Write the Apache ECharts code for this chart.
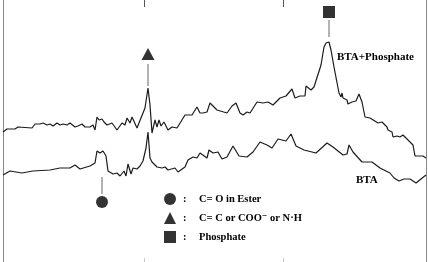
<!DOCTYPE html>
<html>
<head>
<meta charset="utf-8">
<script src="https://cdn.jsdelivr.net/npm/echarts@6/dist/echarts.min.js"></script>
<style>
  html, body { margin: 0; padding: 0; background: #fff; }
  #chart { width: 428px; height: 262px; }
</style>
</head>
<body>
<div id="chart"></div>
<script>
// spectrum traces (arbitrary position / intensity units)
const phosX = [0, 4, 12, 15, 29, 32, 37, 40, 44, 45, 47, 50, 54, 57, 60, 64, 67, 72, 75, 79, 82, 84, 87, 90, 92, 94, 96, 99, 101, 104, 109, 114, 119, 122, 124, 127, 129, 134, 142, 145, 147, 149, 152, 154, 156, 158, 161, 165, 169, 174, 182, 189, 194, 197, 200, 204, 207, 214, 224, 229, 233, 237, 240, 244, 247, 254, 260, 265, 270, 277, 283, 289, 292, 297, 302, 303, 305, 308, 311, 318, 321, 323, 326, 328, 331, 336, 338, 339, 340, 344, 345, 349, 353, 356, 359, 362, 367, 375, 379, 384, 385, 389, 390, 394, 397, 400, 410, 412, 420, 423];
const phosY = [130, 133, 133, 135, 134, 138, 138, 139, 137, 135, 138, 136, 139, 137, 138, 137, 139, 135, 136, 138, 135, 137, 135, 137, 132, 145, 142, 143, 140, 137, 139, 132, 139, 137, 144, 139, 145, 134, 154, 174, 157, 129, 142, 135, 142, 136, 140, 132, 135, 134, 147, 147, 155, 149, 149, 150, 159, 152, 149, 156, 159, 149, 147, 150, 149, 160, 159, 160, 157, 164, 166, 173, 164, 166, 166, 176, 174, 172, 175, 197, 215, 219, 220, 212, 195, 169, 165, 169, 164, 162, 158, 160, 161, 168, 160, 145, 144, 139, 140, 135, 132, 130, 125, 126, 125, 127, 117, 106, 106, 104];

const btaX = [0, 7, 19, 30, 47, 57, 67, 72, 77, 87, 92, 94, 97, 100, 103, 105, 110, 114, 117, 121, 123, 125, 128, 130, 134, 137, 140, 143, 145, 147, 149, 154, 159, 162, 165, 172, 175, 182, 185, 190, 194, 197, 204, 206, 210, 215, 219, 224, 230, 236, 244, 250, 257, 264, 269, 275, 283, 288, 293, 301, 313, 324, 330, 340, 344, 346, 350, 359, 369, 377, 387, 391, 396, 401, 407, 413, 418, 423];
const btaY = [87, 91, 89, 91, 92, 94, 94, 97, 93, 96, 99, 111, 109, 111, 106, 91, 88, 89, 86, 91, 86, 98, 88, 94, 93, 96, 101, 114, 130, 104, 100, 95, 94, 95, 92, 94, 90, 95, 102, 105, 104, 109, 104, 112, 109, 110, 103, 105, 116, 106, 105, 110, 120, 117, 114, 123, 121, 128, 116, 112, 109, 119, 115, 107, 108, 117, 110, 100, 100, 94, 89, 84, 81, 83, 83, 79, 83, 87];

// peak assignments: [x, marker height, stick top, stick bottom]
const peakNames = ['C= O in Ester', 'C= C or COO\u207B or N\u00B7H', 'Phosphate'];
const peakSymbols = ['circle', 'triangle', 'rect'];
const peakX = [99, 145, 326];
const peakMarkY = [60, 208, 250];
const stickFrom = [85, 198, 242];
const stickTo = [68, 176, 225];

const tickMarks = [141, 280];

const zip = (xs, ys) => xs.map((x, i) => [x, ys[i]]);

const chart = echarts.init(document.getElementById('chart'));

const serif = '"Liberation Serif", "DejaVu Serif", serif';
const ink = '#1c1c1c';

const series = [
  {
    name: 'BTA+Phosphate', type: 'line', data: zip(phosX, phosY),
    showSymbol: false, silent: true,
    lineStyle: { color: ink, width: 1.2 }
  },
  {
    name: 'BTA', type: 'line', data: zip(btaX, btaY),
    showSymbol: false, silent: true,
    lineStyle: { color: ink, width: 1.2 }
  }
];

peakX.forEach(function (x, i) {
  series.push({
    type: 'line', silent: true, showSymbol: false,
    data: [[x, stickFrom[i]], [x, stickTo[i]]],
    lineStyle: { color: '#666', width: 1 }
  });
  series.push({
    name: peakNames[i], type: 'scatter', silent: true,
    symbol: peakSymbols[i], symbolSize: i === 1 ? [13, 12] : 12,
    data: [[x, peakMarkY[i]]],
    itemStyle: { color: '#000' }
  });
});

chart.setOption({
  animation: false,
  grid: { left: 3, right: 2, top: 0, bottom: 0 },
  xAxis: [
    {
      type: 'value', min: 0, max: 423, position: 'bottom',
      axisLine: { show: false, onZero: false },
      axisTick: { show: true, inside: true, length: 4, customValues: tickMarks,
        lineStyle: { color: '#c8c8c8', width: 1 } },
      axisLabel: { show: false },
      splitLine: { show: false }
    },
    {
      type: 'value', min: 0, max: 423, position: 'top',
      axisLine: { show: false, onZero: false },
      axisTick: { show: true, inside: true, length: 7, customValues: tickMarks,
        lineStyle: { color: '#555', width: 1 } },
      axisLabel: { show: false },
      splitLine: { show: false }
    }
  ],
  yAxis: [
    {
      type: 'value', min: 0, max: 262, position: 'left',
      axisLine: { show: true, onZero: false, lineStyle: { color: '#8a8a8a', width: 1 } },
      axisTick: { show: false }, axisLabel: { show: false }, splitLine: { show: false }
    },
    {
      type: 'value', min: 0, max: 262, position: 'right',
      axisLine: { show: true, onZero: false, lineStyle: { color: '#8a8a8a', width: 1 } },
      axisTick: { show: false }, axisLabel: { show: false }, splitLine: { show: false }
    }
  ],
  legend: {
    data: peakNames,
    orient: 'vertical',
    left: 164, top: 193, padding: 0,
    itemWidth: 12, itemHeight: 12, itemGap: 7,
    selectedMode: false,
    formatter: function (name) { return '{c|:}{t|' + name + '}'; },
    textStyle: {
      rich: {
        c: { width: 16, padding: [0, 0, 0, 2], fontFamily: serif, fontWeight: 'bold', fontSize: 10.5, color: '#000' },
        t: { fontFamily: serif, fontWeight: 'bold', fontSize: 10.5, color: '#000' }
      }
    }
  },
  graphic: [
    { type: 'text', left: 337, top: 52,
      style: { text: 'BTA+Phosphate', font: 'bold 11px ' + serif, fill: '#000' } },
    { type: 'text', left: 356, top: 175,
      style: { text: 'BTA', font: 'bold 11px ' + serif, fill: '#000' } }
  ],
  series: series
});
</script>
</body>
</html>
